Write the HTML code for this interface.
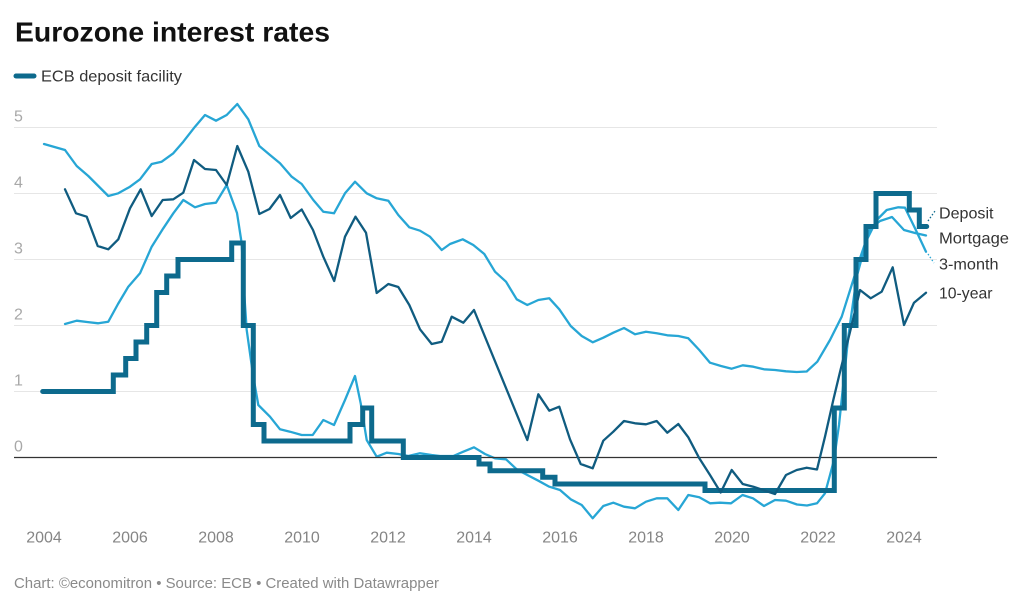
<!DOCTYPE html>
<html>
<head>
<meta charset="utf-8">
<style>
  html,body{margin:0;padding:0;background:#fff;}
  svg{display:block;}
  text{font-family:"Liberation Sans", Arial, sans-serif;}
</style>
</head>
<body>
<svg width="1024" height="606" viewBox="0 0 1024 606" xmlns="http://www.w3.org/2000/svg">
  <rect x="0" y="0" width="1024" height="606" fill="#fff"/>

  <!-- Title -->
  <text x="15" y="41.7" font-size="28" font-weight="bold" fill="#111" textLength="315" lengthAdjust="spacingAndGlyphs">Eurozone interest rates</text>

  <!-- Legend -->
  <line x1="16" y1="76" x2="34" y2="76" stroke="#0d6a8d" stroke-width="5" stroke-linecap="round"/>
  <text x="41" y="81.7" font-size="16" fill="#333" textLength="141" lengthAdjust="spacingAndGlyphs">ECB deposit facility</text>

  <!-- Gridlines -->
  <g stroke="#e6e6e6" stroke-width="1">
    <line x1="14" y1="127.5" x2="937" y2="127.5"/>
    <line x1="14" y1="193.5" x2="937" y2="193.5"/>
    <line x1="14" y1="259.5" x2="937" y2="259.5"/>
    <line x1="14" y1="325.5" x2="937" y2="325.5"/>
    <line x1="14" y1="391.5" x2="937" y2="391.5"/>
  </g>

  <!-- Y labels -->
  <g font-size="16" fill="#a8a8a8">
    <text x="14" y="121.5">5</text>
    <text x="14" y="187.5">4</text>
    <text x="14" y="253.5">3</text>
    <text x="14" y="319.5">2</text>
    <text x="14" y="385.5">1</text>
    <text x="14" y="451.3">0</text>
  </g>

  <!-- X labels -->
  <g font-size="16" fill="#858585" text-anchor="middle">
    <text x="44" y="542.5">2004</text>
    <text x="130" y="542.5">2006</text>
    <text x="216" y="542.5">2008</text>
    <text x="302" y="542.5">2010</text>
    <text x="388" y="542.5">2012</text>
    <text x="474" y="542.5">2014</text>
    <text x="560" y="542.5">2016</text>
    <text x="646" y="542.5">2018</text>
    <text x="732" y="542.5">2020</text>
    <text x="818" y="542.5">2022</text>
    <text x="904" y="542.5">2024</text>
  </g>

  <!-- Mortgage -->
  <polyline fill="none" stroke="#27a6d5" stroke-width="2.3" stroke-linejoin="round" stroke-linecap="round"
    points="44,144 65,150 76.7,166 88.3,176 108.3,196 118.3,193.3 130,186.7 140,179.3 151.7,164 161.7,161.7 173.3,153.3 183.3,141.7 195,126.7 205,115 216,120.7 226.7,115 237.3,104 248.3,119.3 259.3,146 270,155 280,163.3 291.7,176.7 301.7,184 313.3,200 323.3,211.7 334,213.3 345,193.3 355,181.7 366.7,193.3 376.7,198.3 388.3,200.7 398.3,215 409.3,227.3 420,230.7 430,236.7 441.7,250 450,244 462.7,239.3 473.3,245 484.3,254 495,271.7 506,281.7 516.7,299.3 527.3,305 538.3,300 549.3,298.3 559.3,309.3 570.7,326 581.7,336 592.7,342.3 603.3,337.7 613.3,332.7 624,328 635,334.3 646,331.7 656.7,333.3 667.3,335.3 678.3,336 688.3,338.3 699.3,350 710,362.7 721,366 731.7,368.7 742.7,365.3 753.3,366.7 764,369.3 775,370 786,371.3 796.7,372 806.7,371.5 817.3,361.7 830,340 841.7,316.7 851.7,285 860,258.3 870,229 880,221 892,217 904,230 915,233 926,235.5"/>

  <!-- 3-month -->
  <polyline fill="none" stroke="#27a6d5" stroke-width="2.3" stroke-linejoin="round" stroke-linecap="round"
    points="65,324 76.7,320.7 87,322 98.3,323.3 108.3,321.7 118,304 128.3,286.7 140,273.3 151.7,246.7 163.3,228.3 173.3,213.3 183.3,200 195,207.3 205,204 216,202.7 226.7,185 237,213 241.7,243.3 244,290 246.7,330 253.3,376.7 258.3,405 270,416.7 280,429.3 290,431.7 301.7,435 312.7,435 323.3,420 334,425 345,400 355,376 360.7,403.3 366.7,440 376.7,456.7 386.7,452.7 398.3,454 408.3,456 420,453.3 431.7,455 440,456 453.3,456 463.3,451.7 474,447.3 485,454 495,458.3 506,459.3 516.7,469.3 527.3,475 538.3,480.7 549.3,486.7 560,490 570.7,499.3 581.7,505 592.7,518.3 603.3,506 613.3,502.7 624,506.7 635,508.3 646,501.7 656.7,498.3 667.3,498.3 678.3,510 688.3,495 699.3,497.3 710,503.3 720,502.7 731,503.3 742.5,495 753,498.3 764,506 775,500 786,500.7 797,504.5 807,505.5 817,503.3 825,493.3 830,475 834,460 839,425 848.3,336.7 856.7,276.7 866.7,240 876.7,220 886.7,210 898.3,207.3 905,207.7 915,228.3 926,251.7"/>

  <!-- Zero line -->
  <line x1="14" y1="457.5" x2="937" y2="457.5" stroke="#333" stroke-width="1.3"/>

  <!-- Deposit (step) -->
  <path fill="none" stroke="#0d6a8d" stroke-width="5" stroke-linejoin="miter" stroke-linecap="round"
    d="M42.7,391.5 H113.3 V375 H125.7 V358.5 H136 V342 H146.7 V325.5 H156.7 V292.5 H166.7 V276 H178 V259.5 H231.7 V243 H243.3 V325.5 H253.3 V424.5 H264 V441 H350 V424.5 H362.7 V408 H371.7 V441 H403.3 V457.5 H479 V464 H490 V470.7 H542.7 V477.3 H555 V484 H705 V490.5 H834.3 V408 H844.3 V325.5 H856 V259.5 H866 V226.5 H876 V193.5 H909.3 V210 H919.3 V226.5 H926.7"/>

  <!-- 10-year -->
  <polyline fill="none" stroke="#105c80" stroke-width="2.3" stroke-linejoin="round" stroke-linecap="round"
    points="65,189.3 76,213.3 86.7,216.7 97.7,246 108.3,249.3 118.3,239.3 130,208.3 140.7,189.3 151.7,216 162.7,200 173.3,199.3 183.3,192.7 194,160 205,169 216,170 226.7,185 237.3,146 248.3,171.7 259.3,214 269.5,209 280,195 290.7,218 301.7,209.5 313,230 323.3,256.7 334.2,281 345,236.7 355.5,216.7 366,232.7 376.7,293 388.3,284 398.3,287 409.3,305 420,329.3 431.7,344 441.7,341.7 451.7,316.7 463.3,322.7 474,310 527.3,440 538.3,394.3 549.3,410.7 559.3,406.7 570,439.3 580.7,464 592.7,468.3 603.3,440.7 613.3,431.7 624,421 635,423.3 646,424.3 656.7,421 667.3,432.7 678.3,424 688.3,437.3 699.3,458.3 710,475 720.7,492.5 731.7,470 742.7,484 753.3,486.7 775,494 786,475 796.7,470 806.7,467.7 817,469.5 825,436.7 833.3,400 840,372 850,332 860,290 870.7,298.3 881.7,291.7 892.7,267.3 904,325 914,302.7 926,292.7"/>

  <!-- Connector dotted lines -->
  <line x1="928" y1="221" x2="935" y2="211" stroke="#0d6a8d" stroke-width="1.3" stroke-dasharray="1.5,2"/>
  <line x1="928" y1="254" x2="934" y2="263" stroke="#27a6d5" stroke-width="1.3" stroke-dasharray="1.5,2"/>

  <!-- Line labels -->
  <g font-size="16" fill="#333">
    <text x="939" y="218.3" textLength="54.5" lengthAdjust="spacingAndGlyphs">Deposit</text>
    <text x="939" y="243.7" textLength="70" lengthAdjust="spacingAndGlyphs">Mortgage</text>
    <text x="939" y="269.3" textLength="59.5" lengthAdjust="spacingAndGlyphs">3-month</text>
    <text x="939" y="298.3" textLength="53.5" lengthAdjust="spacingAndGlyphs">10-year</text>
  </g>

  <!-- Footer -->
  <text x="14" y="588" font-size="14.5" fill="#8a8a8a" textLength="425" lengthAdjust="spacingAndGlyphs">Chart: ©economitron • Source: ECB • Created with Datawrapper</text>
</svg>
</body>
</html>
